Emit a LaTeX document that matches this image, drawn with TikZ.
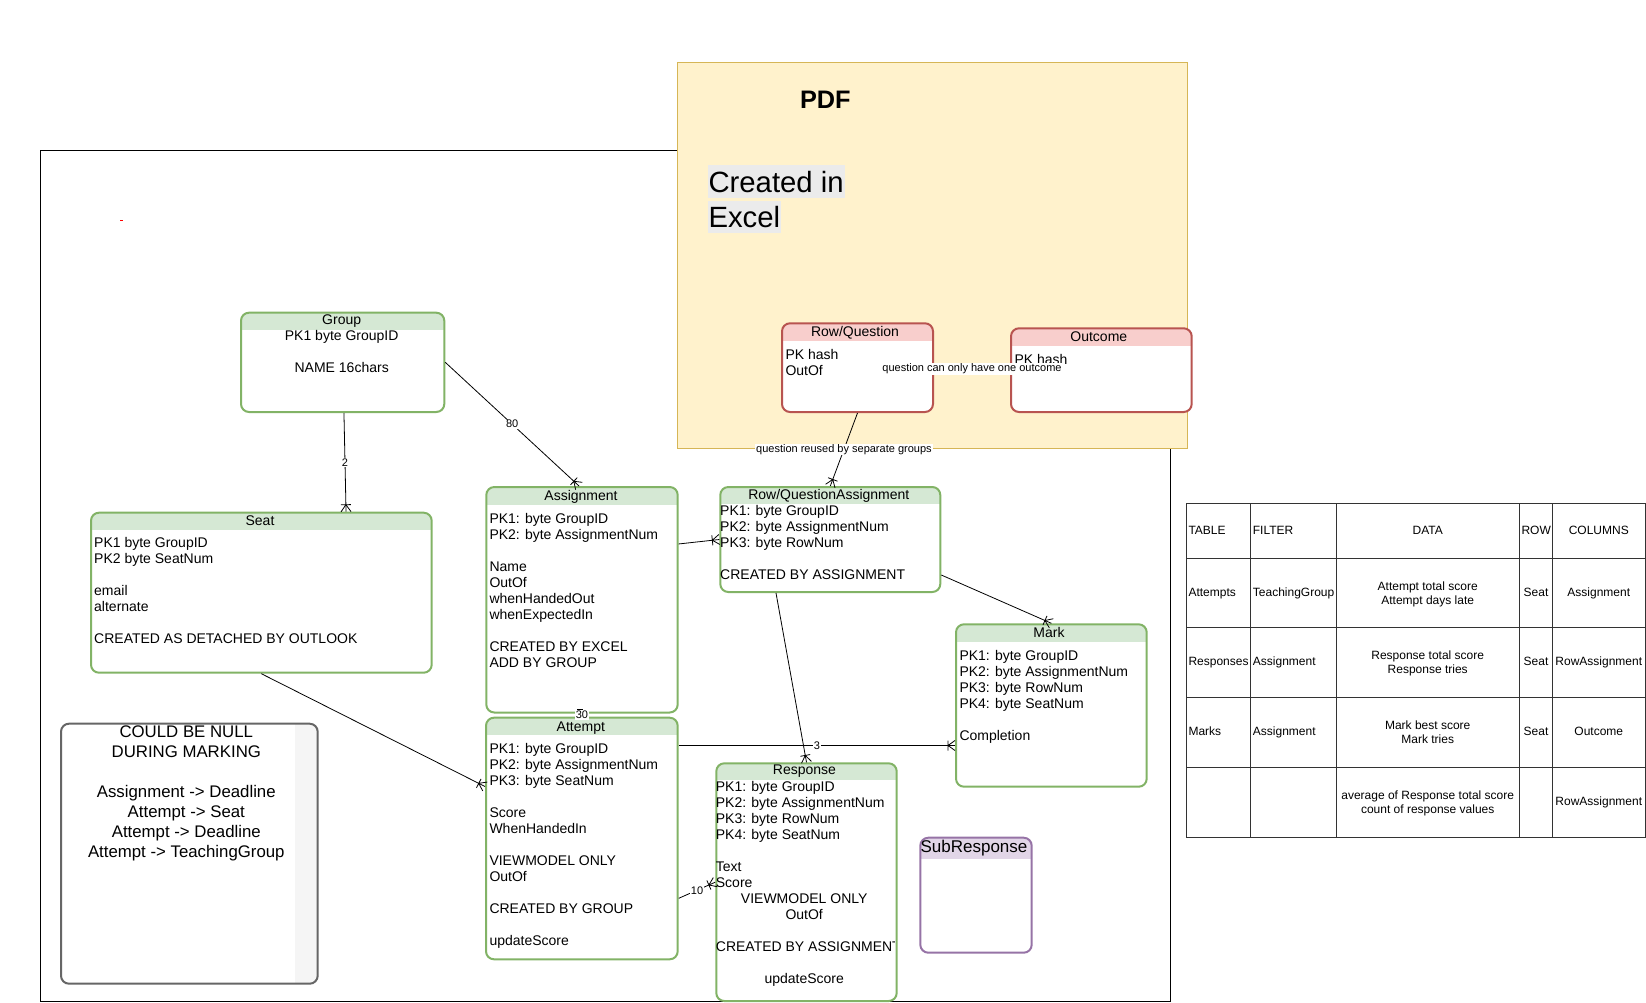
\documentclass[tikz,border=0pt]{standalone}
\usepackage{fontspec}
\setmainfont{Liberation Sans}

\definecolor{egreen}{HTML}{82B366}
\definecolor{hgreen}{HTML}{D5E8D4}
\definecolor{ered}{HTML}{B85450}
\definecolor{hred}{HTML}{F8CECC}
\definecolor{epurple}{HTML}{9673A6}
\definecolor{hpurple}{HTML}{E1D5E7}
\definecolor{pdffill}{HTML}{FFF2CC}
\definecolor{pdfline}{HTML}{D6B656}
\definecolor{notegray}{HTML}{666666}
\definecolor{notestrip}{HTML}{F5F5F5}
\definecolor{hilite}{HTML}{EBEBEB}
\definecolor{gridgray}{HTML}{333333}

\newcommand\entfont{\fontsize{14}{16}\selectfont}
\newcommand\lblfont{\fontsize{11}{13}\selectfont}
\newcommand\tabfont{\fontsize{12}{14}\selectfont}
\newcommand\notefont{\fontsize{16.8}{20}\selectfont}
\newcommand\subfont{\fontsize{17}{20}\selectfont}
\newcommand\excelfont{\fontsize{29.3}{35}\selectfont}
\newcommand\pdffont{\bfseries\fontsize{25.3}{30}\selectfont}

% crow's foot (one-to-many) end marker
\pgfdeclarearrow{
  name=Crow,
  setup code={
    \pgfarrowssettipend{0pt}
    \pgfarrowssetlineend{0pt}
    \pgfarrowssetbackend{-7pt}
    \pgfarrowssetvisualbackend{-7pt}
    \pgfarrowshullpoint{0pt}{5pt}
    \pgfarrowshullpoint{0pt}{-5pt}
    \pgfarrowshullpoint{-7pt}{5pt}
    \pgfarrowshullpoint{-7pt}{-5pt}
  },
  drawing code={
    \pgfsetdash{}{0pt}
    \pgfpathmoveto{\pgfqpoint{0pt}{5pt}}
    \pgfpathlineto{\pgfqpoint{-7pt}{0pt}}
    \pgfpathlineto{\pgfqpoint{0pt}{-5pt}}
    \pgfpathmoveto{\pgfqpoint{-7pt}{5pt}}
    \pgfpathlineto{\pgfqpoint{-7pt}{-5pt}}
    \pgfusepathqstroke
  }
}

\tikzset{
  ent/.style n args={3}{draw=#1, fill=white, line width=2pt, rounded corners=8pt,
    inner sep=0pt, anchor=north west,
    path picture={\fill[#2, sharp corners] (path picture bounding box.north west)
      rectangle ([yshift=-#3]path picture bounding box.north east);}},
  body/.style={font=\entfont, inner sep=0pt, align=left, anchor=north west},
  ctext/.style={font=\entfont, inner sep=0pt, align=center, anchor=north},
  title/.style={font=\entfont, inner sep=0pt, anchor=base},
  rel/.style={draw=black, line width=0.8pt, -Crow},
  plainrel/.style={draw=black, line width=0.8pt},
  lbl/.style={fill=white, inner xsep=1pt, inner ysep=0.5pt, font=\lblfont},
  cellL/.style={font=\tabfont, inner sep=0pt, anchor=base west},
  cellC/.style={font=\tabfont, inner sep=0pt, anchor=base},
  cellM/.style={font=\tabfont, inner sep=0pt, align=center, anchor=north},
  grid/.style={draw=gridgray, line width=1pt},
  xlbg/.style={font=\excelfont, fill=hilite, inner xsep=1pt, inner ysep=0pt,
    text height=27pt, text depth=5.8pt, anchor=base west},
}

\begin{document}
\begin{tikzpicture}[x=1pt, y=-1pt]
\useasboundingbox (0,0) rectangle (1646,1002);

% outer frame and stray mark
\draw[black, line width=1pt] (40,150.5) rectangle (1170,1001);
\fill[red] (120,219.6) rectangle (122.5,221);

% PDF container
\node[draw=pdfline, fill=pdffill, line width=1pt, inner sep=0pt, anchor=north west,
      minimum width=510pt, minimum height=386pt] (pdfbox) at (676.7,61.7) {};
\node[font=\pdffont, inner sep=0pt, anchor=base] (pdftitle) at (825.3,108.7) {PDF};
\node[xlbg] (xl1) at (707.3,192.1) {Created in};
\node[xlbg] (xl2) at (707.3,227.6) {Excel};

% summary table
\draw[grid] (1186.7,503.3) rectangle (1645.5,837.3);
\foreach \x in {1250.3,1336.7,1519.3,1552.3}
  \draw[grid] (\x,503.3) -- (\x,837.3);
\foreach \y in {558.3,627.3,697.3,767.3}
  \draw[grid] (1186.7,\y) -- (1645.5,\y);

\node[cellL] (h1) at (1188.3,534.8) {TABLE};
\node[cellL] (h2) at (1252.7,534.8) {FILTER};
\node[cellC] (h3) at (1427.7,534.8) {DATA};
\node[cellL] (h4) at (1521.3,534.8) {ROW};
\node[cellC] (h5) at (1598.8,534.8) {COLUMNS};

\node[cellL] (a1) at (1188.3,596.8) {Attempts};
\node[cellL] (a2) at (1252.7,596.8) {TeachingGroup};
\node[cellM] (a3) at (1427.7,580) {\strut Attempt total score\\Attempt days late};
\node[cellC] (a4) at (1536,596.8) {Seat};
\node[cellC] (a5) at (1598.8,596.8) {Assignment};

\node[cellL] (b1) at (1188.3,665.8) {Responses};
\node[cellL] (b2) at (1252.7,665.8) {Assignment};
\node[cellM] (b3) at (1427.7,649) {\strut Response total score\\Response tries};
\node[cellC] (b4) at (1536,665.8) {Seat};
\node[cellC] (b5) at (1598.8,665.8) {RowAssignment};

\node[cellL] (c1) at (1188.3,735.8) {Marks};
\node[cellL] (c2) at (1252.7,735.8) {Assignment};
\node[cellM] (c3) at (1427.7,719) {\strut Mark best score\\Mark tries};
\node[cellC] (c4) at (1536,735.8) {Seat};
\node[cellC] (c5) at (1598.8,735.8) {Outcome};

\node[cellM] (d3) at (1427.7,789) {\strut average of Response total score\\count of response values};
\node[cellC] (d5) at (1598.8,805.8) {RowAssignment};

% entities
\node[ent={egreen}{hgreen}{17.3pt}, minimum width=203.3pt, minimum height=99.3pt] (group) at (240,311.7) {};
\node[ent={egreen}{hgreen}{17.3pt}, minimum width=340.7pt, minimum height=160pt] (seat) at (90,511.7) {};
\node[ent={egreen}{hgreen}{18pt}, minimum width=191.4pt, minimum height=225.5pt] (assign) at (485.3,486) {};
\node[ent={egreen}{hgreen}{17.3pt}, minimum width=220pt, minimum height=105pt] (rqa) at (719.3,486) {};
\node[ent={egreen}{hgreen}{17pt}, minimum width=191.7pt, minimum height=241.6pt] (attempt) at (485,716.7) {};
\node[ent={egreen}{hgreen}{17pt}, minimum width=180.4pt, minimum height=237.7pt] (resp) at (715.3,762.3) {};
\node[ent={egreen}{hgreen}{17.4pt}, minimum width=190.7pt, minimum height=162.4pt] (mark) at (955,623.3) {};
\node[ent={ered}{hred}{17.7pt}, minimum width=151pt, minimum height=88.7pt] (rq) at (781,322.3) {};
\node[ent={ered}{hred}{17.4pt}, minimum width=180.7pt, minimum height=83.7pt] (outcome) at (1010,327.3) {};
\node[ent={epurple}{hpurple}{21.6pt}, minimum width=111.4pt, minimum height=115pt] (sub) at (919.3,836.7) {};

% entity texts
\node[title] (group-t) at (341.7,324.3) {Group};
\node[ctext] (group-b) at (341.7,328.8) {\strut PK1 byte GroupID\\ \\NAME 16chars};

\node[title] (seat-t) at (260,525.8) {Seat};
\node[body] (seat-b) at (94,536.5) {\strut PK1 byte GroupID\\PK2 byte SeatNum\\ \\email\\alternate\\ \\CREATED AS DETACHED BY OUTLOOK};

\node[title] (assign-t) at (581,500.5) {Assignment};
\node[body] (assign-b) at (489.3,512.1) {\strut PK1: byte GroupID\\PK2: byte AssignmentNum\\ \\Name\\OutOf\\whenHandedOut\\whenExpectedIn\\ \\CREATED BY EXCEL\\ADD BY GROUP};

\node[title] (rqa-t) at (828.8,499.5) {Row/QuestionAssignment};
\node[body] (rqa-b) at (720,504.1) {\strut PK1: byte GroupID\\PK2: byte AssignmentNum\\PK3: byte RowNum\\ \\CREATED BY ASSIGNMENT};

\node[title] (mark-t) at (1049,637.5) {Mark};
\node[body] (mark-b) at (959.3,648.8) {\strut PK1: byte GroupID\\PK2: byte AssignmentNum\\PK3: byte RowNum\\PK4: byte SeatNum\\ \\Completion};

\node[title] (attempt-t) at (580.8,731.1) {Attempt};
\node[body] (attempt-b) at (489.3,742.1) {\strut PK1: byte GroupID\\PK2: byte AssignmentNum\\PK3: byte SeatNum\\ \\Score\\WhenHandedIn\\ \\VIEWMODEL ONLY\\OutOf\\ \\CREATED BY GROUP\\ \\updateScore};

\node[title] (resp-t) at (804.5,774.8) {Response};
\begin{scope}
  \clip (715.3,762.3) rectangle (894.6,1000);
  \node[body] (resp-b) at (715.7,779.8) {\strut PK1: byte GroupID\\PK2: byte AssignmentNum\\PK3: byte RowNum\\PK4: byte SeatNum\\ \\Text\\Score};
  \node[ctext] (resp-c) at (804.2,892.1) {\strut VIEWMODEL ONLY\\OutOf\\ \\ \\ \\updateScore};
  \node[body] (resp-d) at (715.7,939.8) {\strut CREATED BY ASSIGNMENT};
\end{scope}

\node[title] (rq-t) at (855,336.8) {Row/Question};
\node[body] (rq-b) at (785.3,347.8) {\strut PK hash\\OutOf};

\node[title] (outcome-t) at (1098.8,341.5) {Outcome};
\node[body] (outcome-b) at (1014.3,352.8) {\strut PK hash};

\node[title, font=\subfont] (sub-t) at (974,852.6) {SubResponse};

% note
\node[draw=notegray, fill=white, line width=2pt, rounded corners=8pt, inner sep=0pt,
      anchor=north west, minimum width=256.7pt, minimum height=260pt,
      path picture={\fill[notestrip, sharp corners] ([xshift=-22.4pt]path picture bounding box.north east)
        rectangle (path picture bounding box.south east);}] (note) at (60,722.7) {};
\node[font=\notefont, align=center, anchor=north, inner sep=0pt] (note-t) at (186.3,723.5)
  {\strut COULD BE NULL\\DURING MARKING\\ \\Assignment -> Deadline\\Attempt -> Seat\\Attempt -> Deadline\\Attempt -> TeachingGroup};

% relationships
\draw[rel] ([xshift=1.3pt]group.south) -- node[lbl] (l-2) {2} ([xshift=84.7pt]seat.north);
\draw[rel] (group.east) -- node[lbl] (l-80) {80} ([xshift=-3pt]assign.north);
\draw[rel] ([yshift=55.8pt]assign.east) -- (rqa.west);
\draw[rel] ([yshift=-35.5pt]rqa.east) -- (mark.north);
\draw[rel] ([xshift=-54.3pt]rqa.south) -- (resp.north);
\draw[rel] (rq.south) -- node[lbl] (l-reuse) {question reused by separate groups} (rqa.north);
\draw[plainrel] (rq.east) -- node[lbl] (l-one) {question can only have one outcome} (outcome.west);
\draw[rel] ([yshift=93pt]attempt.east) -- node[lbl] (l-3) {3} ([yshift=-40pt]mark.west);
\draw[rel] (seat.south) -- ([yshift=52pt]attempt.west);
\draw[rel] ([yshift=-59.8pt]attempt.east) -- node[lbl] (l-10) {10} (resp.west);
\draw[plainrel] (assign.south) -- node[lbl] (l-30) {30} (attempt.north);
\draw[plainrel] ([xshift=-5pt,yshift=4pt]assign.south) -- ([xshift=1pt,yshift=4pt]assign.south);

\end{tikzpicture}
\end{document}
